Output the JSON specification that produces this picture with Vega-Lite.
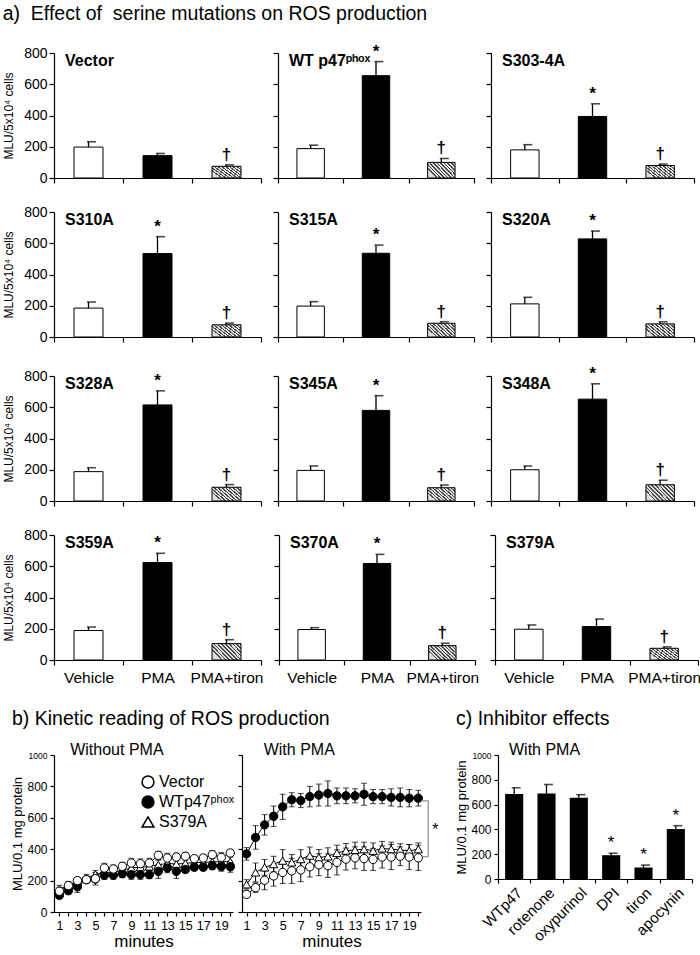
{
"$schema": "https://vega.github.io/schema/vega-lite/v6.json",
"padding": {"left": 2, "top": 4, "right": 2, "bottom": 0},
"config": {
  "font": "Liberation Sans",
  "view": {"stroke": null},
  "axis": {"domainColor": "black", "tickColor": "black", "labelColor": "black", "titleColor": "black", "grid": false, "titleFontWeight": "normal", "domainWidth": 1.2, "tickWidth": 1.2, "labelFont": "Liberation Sans", "titleFont": "Liberation Sans", "labelOverlap": false},
  "axisY": {"tickCount": 6},
  "title": {"font": "Liberation Sans", "fontWeight": "normal", "fontSize": 19.5, "anchor": "start", "color": "black"},
  "text": {"color": "black"}
},
"datasets": {
  "bars": [
    {"g": "Vector", "cond": "Vehicle", "mean": 198, "hi": 232, "sig": ""},
    {"g": "Vector", "cond": "PMA", "mean": 143, "hi": 157, "sig": ""},
    {"g": "Vector", "cond": "PMA+tiron", "mean": 75, "hi": 84, "sig": "†"},
    {"g": "WT p47ᵖʰᵒˣ", "cond": "Vehicle", "mean": 188, "hi": 210, "sig": ""},
    {"g": "WT p47ᵖʰᵒˣ", "cond": "PMA", "mean": 655, "hi": 745, "sig": "*"},
    {"g": "WT p47ᵖʰᵒˣ", "cond": "PMA+tiron", "mean": 100, "hi": 125, "sig": "†"},
    {"g": "S303-4A", "cond": "Vehicle", "mean": 180, "hi": 213, "sig": ""},
    {"g": "S303-4A", "cond": "PMA", "mean": 394, "hi": 475, "sig": "*"},
    {"g": "S303-4A", "cond": "PMA+tiron", "mean": 80, "hi": 89, "sig": "†"},
    {"g": "S310A", "cond": "Vehicle", "mean": 185, "hi": 224, "sig": ""},
    {"g": "S310A", "cond": "PMA", "mean": 534, "hi": 642, "sig": "*"},
    {"g": "S310A", "cond": "PMA+tiron", "mean": 78, "hi": 89, "sig": "†"},
    {"g": "S315A", "cond": "Vehicle", "mean": 198, "hi": 226, "sig": ""},
    {"g": "S315A", "cond": "PMA", "mean": 536, "hi": 588, "sig": "*"},
    {"g": "S315A", "cond": "PMA+tiron", "mean": 88, "hi": 98, "sig": "†"},
    {"g": "S320A", "cond": "Vehicle", "mean": 212, "hi": 254, "sig": ""},
    {"g": "S320A", "cond": "PMA", "mean": 628, "hi": 678, "sig": "*"},
    {"g": "S320A", "cond": "PMA+tiron", "mean": 84, "hi": 97, "sig": "†"},
    {"g": "S328A", "cond": "Vehicle", "mean": 188, "hi": 213, "sig": ""},
    {"g": "S328A", "cond": "PMA", "mean": 615, "hi": 705, "sig": "*"},
    {"g": "S328A", "cond": "PMA+tiron", "mean": 88, "hi": 105, "sig": "†"},
    {"g": "S345A", "cond": "Vehicle", "mean": 196, "hi": 224, "sig": ""},
    {"g": "S345A", "cond": "PMA", "mean": 580, "hi": 674, "sig": "*"},
    {"g": "S345A", "cond": "PMA+tiron", "mean": 85, "hi": 102, "sig": "†"},
    {"g": "S348A", "cond": "Vehicle", "mean": 200, "hi": 224, "sig": ""},
    {"g": "S348A", "cond": "PMA", "mean": 652, "hi": 750, "sig": "*"},
    {"g": "S348A", "cond": "PMA+tiron", "mean": 104, "hi": 133, "sig": "†"},
    {"g": "S359A", "cond": "Vehicle", "mean": 189, "hi": 211, "sig": ""},
    {"g": "S359A", "cond": "PMA", "mean": 624, "hi": 683, "sig": "*"},
    {"g": "S359A", "cond": "PMA+tiron", "mean": 105, "hi": 130, "sig": "†"},
    {"g": "S370A", "cond": "Vehicle", "mean": 195, "hi": 207, "sig": ""},
    {"g": "S370A", "cond": "PMA", "mean": 618, "hi": 676, "sig": "*"},
    {"g": "S370A", "cond": "PMA+tiron", "mean": 92, "hi": 107, "sig": "†"},
    {"g": "S379A", "cond": "Vehicle", "mean": 197, "hi": 224, "sig": ""},
    {"g": "S379A", "cond": "PMA", "mean": 214, "hi": 262, "sig": ""},
    {"g": "S379A", "cond": "PMA+tiron", "mean": 75, "hi": 84, "sig": "†"}
  ],
  "inh": [
    {"k": "WTp47", "mean": 685, "hi": 736, "sig": ""},
    {"k": "rotenone", "mean": 690, "hi": 762, "sig": ""},
    {"k": "oxypurinol", "mean": 655, "hi": 680, "sig": ""},
    {"k": "DPI", "mean": 192, "hi": 208, "sig": "*"},
    {"k": "tiron", "mean": 93, "hi": 112, "sig": "*"},
    {"k": "apocynin", "mean": 403, "hi": 430, "sig": "*"}
  ],
  "kin": [
    {"p":"without","s":"S379A","m":1,"v":145,"e":25},{"p":"without","s":"S379A","m":2,"v":170,"e":25},{"p":"without","s":"S379A","m":3,"v":195,"e":25},{"p":"without","s":"S379A","m":4,"v":215,"e":25},{"p":"without","s":"S379A","m":5,"v":240,"e":25},{"p":"without","s":"S379A","m":6,"v":250,"e":25},{"p":"without","s":"S379A","m":7,"v":255,"e":25},{"p":"without","s":"S379A","m":8,"v":265,"e":25},{"p":"without","s":"S379A","m":9,"v":280,"e":25},{"p":"without","s":"S379A","m":10,"v":285,"e":25},{"p":"without","s":"S379A","m":11,"v":290,"e":25},{"p":"without","s":"S379A","m":12,"v":300,"e":30},{"p":"without","s":"S379A","m":13,"v":310,"e":30},{"p":"without","s":"S379A","m":14,"v":305,"e":30},{"p":"without","s":"S379A","m":15,"v":310,"e":30},{"p":"without","s":"S379A","m":16,"v":315,"e":30},{"p":"without","s":"S379A","m":17,"v":315,"e":30},{"p":"without","s":"S379A","m":18,"v":320,"e":30},{"p":"without","s":"S379A","m":19,"v":320,"e":30},{"p":"without","s":"S379A","m":20,"v":320,"e":30},
    {"p":"without","s":"WTp47ᵖʰᵒˣ","m":1,"v":106,"e":20},{"p":"without","s":"WTp47ᵖʰᵒˣ","m":2,"v":136,"e":25},{"p":"without","s":"WTp47ᵖʰᵒˣ","m":3,"v":160,"e":35},{"p":"without","s":"WTp47ᵖʰᵒˣ","m":4,"v":206,"e":20},{"p":"without","s":"WTp47ᵖʰᵒˣ","m":5,"v":210,"e":20},{"p":"without","s":"WTp47ᵖʰᵒˣ","m":6,"v":234,"e":25},{"p":"without","s":"WTp47ᵖʰᵒˣ","m":7,"v":234,"e":25},{"p":"without","s":"WTp47ᵖʰᵒˣ","m":8,"v":244,"e":25},{"p":"without","s":"WTp47ᵖʰᵒˣ","m":9,"v":238,"e":30},{"p":"without","s":"WTp47ᵖʰᵒˣ","m":10,"v":238,"e":30},{"p":"without","s":"WTp47ᵖʰᵒˣ","m":11,"v":238,"e":25},{"p":"without","s":"WTp47ᵖʰᵒˣ","m":12,"v":259,"e":45},{"p":"without","s":"WTp47ᵖʰᵒˣ","m":13,"v":280,"e":30},{"p":"without","s":"WTp47ᵖʰᵒˣ","m":14,"v":259,"e":45},{"p":"without","s":"WTp47ᵖʰᵒˣ","m":15,"v":271,"e":20},{"p":"without","s":"WTp47ᵖʰᵒˣ","m":16,"v":285,"e":20},{"p":"without","s":"WTp47ᵖʰᵒˣ","m":17,"v":285,"e":20},{"p":"without","s":"WTp47ᵖʰᵒˣ","m":18,"v":295,"e":25},{"p":"without","s":"WTp47ᵖʰᵒˣ","m":19,"v":290,"e":30},{"p":"without","s":"WTp47ᵖʰᵒˣ","m":20,"v":288,"e":35},
    {"p":"without","s":"Vector","m":1,"v":132,"e":25},{"p":"without","s":"Vector","m":2,"v":168,"e":20},{"p":"without","s":"Vector","m":3,"v":200,"e":20},{"p":"without","s":"Vector","m":4,"v":206,"e":20},{"p":"without","s":"Vector","m":5,"v":212,"e":40},{"p":"without","s":"Vector","m":6,"v":280,"e":30},{"p":"without","s":"Vector","m":7,"v":274,"e":25},{"p":"without","s":"Vector","m":8,"v":291,"e":25},{"p":"without","s":"Vector","m":9,"v":312,"e":30},{"p":"without","s":"Vector","m":10,"v":308,"e":30},{"p":"without","s":"Vector","m":11,"v":312,"e":30},{"p":"without","s":"Vector","m":12,"v":361,"e":25},{"p":"without","s":"Vector","m":13,"v":344,"e":30},{"p":"without","s":"Vector","m":14,"v":350,"e":25},{"p":"without","s":"Vector","m":15,"v":355,"e":25},{"p":"without","s":"Vector","m":16,"v":340,"e":20},{"p":"without","s":"Vector","m":17,"v":344,"e":20},{"p":"without","s":"Vector","m":18,"v":365,"e":25},{"p":"without","s":"Vector","m":19,"v":348,"e":30},{"p":"without","s":"Vector","m":20,"v":376,"e":20},
    {"p":"with","s":"S379A","m":1,"v":176,"e":30},{"p":"with","s":"S379A","m":2,"v":252,"e":60},{"p":"with","s":"S379A","m":3,"v":284,"e":50},{"p":"with","s":"S379A","m":4,"v":305,"e":50},{"p":"with","s":"S379A","m":5,"v":327,"e":70},{"p":"with","s":"S379A","m":6,"v":316,"e":50},{"p":"with","s":"S379A","m":7,"v":337,"e":60},{"p":"with","s":"S379A","m":8,"v":359,"e":55},{"p":"with","s":"S379A","m":9,"v":348,"e":50},{"p":"with","s":"S379A","m":10,"v":354,"e":55},{"p":"with","s":"S379A","m":11,"v":376,"e":50},{"p":"with","s":"S379A","m":12,"v":391,"e":45},{"p":"with","s":"S379A","m":13,"v":395,"e":50},{"p":"with","s":"S379A","m":14,"v":400,"e":45},{"p":"with","s":"S379A","m":15,"v":390,"e":50},{"p":"with","s":"S379A","m":16,"v":405,"e":45},{"p":"with","s":"S379A","m":17,"v":400,"e":45},{"p":"with","s":"S379A","m":18,"v":395,"e":40},{"p":"with","s":"S379A","m":19,"v":390,"e":40},{"p":"with","s":"S379A","m":20,"v":400,"e":40},
    {"p":"with","s":"Vector","m":1,"v":112,"e":20},{"p":"with","s":"Vector","m":2,"v":155,"e":30},{"p":"with","s":"Vector","m":3,"v":202,"e":60},{"p":"with","s":"Vector","m":4,"v":230,"e":65},{"p":"with","s":"Vector","m":5,"v":252,"e":70},{"p":"with","s":"Vector","m":6,"v":262,"e":80},{"p":"with","s":"Vector","m":7,"v":268,"e":75},{"p":"with","s":"Vector","m":8,"v":288,"e":65},{"p":"with","s":"Vector","m":9,"v":301,"e":70},{"p":"with","s":"Vector","m":10,"v":295,"e":75},{"p":"with","s":"Vector","m":11,"v":316,"e":80},{"p":"with","s":"Vector","m":12,"v":337,"e":70},{"p":"with","s":"Vector","m":13,"v":345,"e":70},{"p":"with","s":"Vector","m":14,"v":340,"e":75},{"p":"with","s":"Vector","m":15,"v":335,"e":70},{"p":"with","s":"Vector","m":16,"v":350,"e":70},{"p":"with","s":"Vector","m":17,"v":350,"e":80},{"p":"with","s":"Vector","m":18,"v":355,"e":60},{"p":"with","s":"Vector","m":19,"v":350,"e":80},{"p":"with","s":"Vector","m":20,"v":345,"e":80},
    {"p":"with","s":"WTp47ᵖʰᵒˣ","m":1,"v":370,"e":40},{"p":"with","s":"WTp47ᵖʰᵒˣ","m":2,"v":475,"e":75},{"p":"with","s":"WTp47ᵖʰᵒˣ","m":3,"v":555,"e":65},{"p":"with","s":"WTp47ᵖʰᵒˣ","m":4,"v":610,"e":65},{"p":"with","s":"WTp47ᵖʰᵒˣ","m":5,"v":670,"e":80},{"p":"with","s":"WTp47ᵖʰᵒˣ","m":6,"v":715,"e":45},{"p":"with","s":"WTp47ᵖʰᵒˣ","m":7,"v":710,"e":45},{"p":"with","s":"WTp47ᵖʰᵒˣ","m":8,"v":735,"e":65},{"p":"with","s":"WTp47ᵖʰᵒˣ","m":9,"v":745,"e":70},{"p":"with","s":"WTp47ᵖʰᵒˣ","m":10,"v":755,"e":80},{"p":"with","s":"WTp47ᵖʰᵒˣ","m":11,"v":740,"e":50},{"p":"with","s":"WTp47ᵖʰᵒˣ","m":12,"v":740,"e":50},{"p":"with","s":"WTp47ᵖʰᵒˣ","m":13,"v":740,"e":45},{"p":"with","s":"WTp47ᵖʰᵒˣ","m":14,"v":750,"e":70},{"p":"with","s":"WTp47ᵖʰᵒˣ","m":15,"v":735,"e":45},{"p":"with","s":"WTp47ᵖʰᵒˣ","m":16,"v":735,"e":45},{"p":"with","s":"WTp47ᵖʰᵒˣ","m":17,"v":730,"e":55},{"p":"with","s":"WTp47ᵖʰᵒˣ","m":18,"v":730,"e":60},{"p":"with","s":"WTp47ᵖʰᵒˣ","m":19,"v":725,"e":55},{"p":"with","s":"WTp47ᵖʰᵒˣ","m":20,"v":725,"e":50}
  ]
},
"columns": 1,
"align": "none",
"spacing": 22,
"concat": [
  {
    "data": {"name": "bars"},
    "title": {"text": "a)\u00a0 Effect of\u00a0 serine mutations on ROS production", "offset": 18},
    "spacing": 20,
    "vconcat": [
      {"spacing": 10, "hconcat": [
        {"width": 207, "height": 125, "transform": [{"filter": "datum.g == 'Vector'"}],
         "encoding": {"x": {"field": "cond", "type": "nominal", "sort": ["Vehicle", "PMA", "PMA+tiron"], "scale": {"paddingInner": 0, "paddingOuter": 0}, "axis": {"title": null, "labels": false, "tickBand": "extent", "tickSize": 5}}},
         "layer": [
          {"mark": {"type": "bar", "stroke": "black", "strokeWidth": 1, "width": {"band": 0.42}}, "encoding": {"y": {"field": "mean", "type": "quantitative", "scale": {"domain": [0, 800], "nice": false}, "axis": {"title": "MLU/5x10⁴ cells", "values": [0, 200, 400, 600, 800], "labelFontSize": 14, "titleFontSize": 12, "titlePadding": 8, "labelPadding": 2, "tickSize": 5}}, "fill": {"condition": [{"test": "datum.cond == 'PMA'", "value": "black"}, {"test": "datum.cond == 'PMA+tiron'", "value": {"gradient": "linear", "x1": 0, "y1": 0.55, "x2": 1, "y2": 0, "stops": [{"offset": 0, "color": "#dedede"}, {"offset": 0.055, "color": "#dedede"}, {"offset": 0.055, "color": "#4a4a4a"}, {"offset": 0.1, "color": "#4a4a4a"}, {"offset": 0.1, "color": "#dedede"}, {"offset": 0.155, "color": "#dedede"}, {"offset": 0.155, "color": "#4a4a4a"}, {"offset": 0.2, "color": "#4a4a4a"}, {"offset": 0.2, "color": "#dedede"}, {"offset": 0.255, "color": "#dedede"}, {"offset": 0.255, "color": "#4a4a4a"}, {"offset": 0.3, "color": "#4a4a4a"}, {"offset": 0.3, "color": "#dedede"}, {"offset": 0.355, "color": "#dedede"}, {"offset": 0.355, "color": "#4a4a4a"}, {"offset": 0.4, "color": "#4a4a4a"}, {"offset": 0.4, "color": "#dedede"}, {"offset": 0.455, "color": "#dedede"}, {"offset": 0.455, "color": "#4a4a4a"}, {"offset": 0.5, "color": "#4a4a4a"}, {"offset": 0.5, "color": "#dedede"}, {"offset": 0.555, "color": "#dedede"}, {"offset": 0.555, "color": "#4a4a4a"}, {"offset": 0.6, "color": "#4a4a4a"}, {"offset": 0.6, "color": "#dedede"}, {"offset": 0.655, "color": "#dedede"}, {"offset": 0.655, "color": "#4a4a4a"}, {"offset": 0.7, "color": "#4a4a4a"}, {"offset": 0.7, "color": "#dedede"}, {"offset": 0.755, "color": "#dedede"}, {"offset": 0.755, "color": "#4a4a4a"}, {"offset": 0.8, "color": "#4a4a4a"}, {"offset": 0.8, "color": "#dedede"}, {"offset": 0.855, "color": "#dedede"}, {"offset": 0.855, "color": "#4a4a4a"}, {"offset": 0.9, "color": "#4a4a4a"}, {"offset": 0.9, "color": "#dedede"}, {"offset": 0.955, "color": "#dedede"}, {"offset": 0.955, "color": "#4a4a4a"}, {"offset": 1, "color": "#4a4a4a"}]}}], "value": "white"}}},
          {"mark": {"type": "rule", "strokeWidth": 1.3, "color": "black"}, "encoding": {"y": {"field": "mean", "type": "quantitative"}, "y2": {"field": "hi"}}},
          {"mark": {"type": "tick", "thickness": 1.6, "size": 9, "color": "black", "xOffset": 3}, "encoding": {"y": {"field": "hi", "type": "quantitative"}}},
          {"mark": {"type": "text", "dy": -10, "fontSize": 17, "fontWeight": "bold"}, "encoding": {"y": {"field": "hi", "type": "quantitative"}, "text": {"field": "sig"}}},
          {"transform": [{"filter": "datum.cond == 'Vehicle'"}], "mark": {"type": "text", "align": "left", "baseline": "top", "fontSize": 16, "fontWeight": "bold", "dx": 11, "dy": 0}, "encoding": {"x": {"field": "cond", "type": "nominal", "sort": ["Vehicle", "PMA", "PMA+tiron"], "bandPosition": 0}, "y": {"datum": 800}, "text": {"field": "g"}}}
         ]},
        {"width": 196, "height": 125, "transform": [{"filter": "datum.g == 'WT p47ᵖʰᵒˣ'"}],
         "encoding": {"x": {"field": "cond", "type": "nominal", "sort": ["Vehicle", "PMA", "PMA+tiron"], "scale": {"paddingInner": 0, "paddingOuter": 0}, "axis": {"title": null, "labels": false, "tickBand": "extent", "tickSize": 5}}},
         "layer": [
          {"mark": {"type": "bar", "stroke": "black", "strokeWidth": 1, "width": {"band": 0.42}}, "encoding": {"y": {"field": "mean", "type": "quantitative", "scale": {"domain": [0, 800], "nice": false}, "axis": {"title": null, "labels": false, "values": [0, 200, 400, 600, 800], "tickSize": 5}}, "fill": {"condition": [{"test": "datum.cond == 'PMA'", "value": "black"}, {"test": "datum.cond == 'PMA+tiron'", "value": {"gradient": "linear", "x1": 0, "y1": 0.55, "x2": 1, "y2": 0, "stops": [{"offset": 0, "color": "#dedede"}, {"offset": 0.055, "color": "#dedede"}, {"offset": 0.055, "color": "#4a4a4a"}, {"offset": 0.1, "color": "#4a4a4a"}, {"offset": 0.1, "color": "#dedede"}, {"offset": 0.155, "color": "#dedede"}, {"offset": 0.155, "color": "#4a4a4a"}, {"offset": 0.2, "color": "#4a4a4a"}, {"offset": 0.2, "color": "#dedede"}, {"offset": 0.255, "color": "#dedede"}, {"offset": 0.255, "color": "#4a4a4a"}, {"offset": 0.3, "color": "#4a4a4a"}, {"offset": 0.3, "color": "#dedede"}, {"offset": 0.355, "color": "#dedede"}, {"offset": 0.355, "color": "#4a4a4a"}, {"offset": 0.4, "color": "#4a4a4a"}, {"offset": 0.4, "color": "#dedede"}, {"offset": 0.455, "color": "#dedede"}, {"offset": 0.455, "color": "#4a4a4a"}, {"offset": 0.5, "color": "#4a4a4a"}, {"offset": 0.5, "color": "#dedede"}, {"offset": 0.555, "color": "#dedede"}, {"offset": 0.555, "color": "#4a4a4a"}, {"offset": 0.6, "color": "#4a4a4a"}, {"offset": 0.6, "color": "#dedede"}, {"offset": 0.655, "color": "#dedede"}, {"offset": 0.655, "color": "#4a4a4a"}, {"offset": 0.7, "color": "#4a4a4a"}, {"offset": 0.7, "color": "#dedede"}, {"offset": 0.755, "color": "#dedede"}, {"offset": 0.755, "color": "#4a4a4a"}, {"offset": 0.8, "color": "#4a4a4a"}, {"offset": 0.8, "color": "#dedede"}, {"offset": 0.855, "color": "#dedede"}, {"offset": 0.855, "color": "#4a4a4a"}, {"offset": 0.9, "color": "#4a4a4a"}, {"offset": 0.9, "color": "#dedede"}, {"offset": 0.955, "color": "#dedede"}, {"offset": 0.955, "color": "#4a4a4a"}, {"offset": 1, "color": "#4a4a4a"}]}}], "value": "white"}}},
          {"mark": {"type": "rule", "strokeWidth": 1.3, "color": "black"}, "encoding": {"y": {"field": "mean", "type": "quantitative"}, "y2": {"field": "hi"}}},
          {"mark": {"type": "tick", "thickness": 1.6, "size": 9, "color": "black", "xOffset": 3}, "encoding": {"y": {"field": "hi", "type": "quantitative"}}},
          {"mark": {"type": "text", "dy": -10, "fontSize": 17, "fontWeight": "bold"}, "encoding": {"y": {"field": "hi", "type": "quantitative"}, "text": {"field": "sig"}}},
          {"transform": [{"filter": "datum.cond == 'Vehicle'"}], "mark": {"type": "text", "align": "left", "baseline": "top", "fontSize": 16, "fontWeight": "bold", "dx": 11, "dy": 0}, "encoding": {"x": {"field": "cond", "type": "nominal", "sort": ["Vehicle", "PMA", "PMA+tiron"], "bandPosition": 0}, "y": {"datum": 800}, "text": {"field": "g"}}}
         ]},
        {"width": 203, "height": 125, "transform": [{"filter": "datum.g == 'S303-4A'"}],
         "encoding": {"x": {"field": "cond", "type": "nominal", "sort": ["Vehicle", "PMA", "PMA+tiron"], "scale": {"paddingInner": 0, "paddingOuter": 0}, "axis": {"title": null, "labels": false, "tickBand": "extent", "tickSize": 5}}},
         "layer": [
          {"mark": {"type": "bar", "stroke": "black", "strokeWidth": 1, "width": {"band": 0.42}}, "encoding": {"y": {"field": "mean", "type": "quantitative", "scale": {"domain": [0, 800], "nice": false}, "axis": {"title": null, "labels": false, "values": [0, 200, 400, 600, 800], "tickSize": 5}}, "fill": {"condition": [{"test": "datum.cond == 'PMA'", "value": "black"}, {"test": "datum.cond == 'PMA+tiron'", "value": {"gradient": "linear", "x1": 0, "y1": 0.55, "x2": 1, "y2": 0, "stops": [{"offset": 0, "color": "#dedede"}, {"offset": 0.055, "color": "#dedede"}, {"offset": 0.055, "color": "#4a4a4a"}, {"offset": 0.1, "color": "#4a4a4a"}, {"offset": 0.1, "color": "#dedede"}, {"offset": 0.155, "color": "#dedede"}, {"offset": 0.155, "color": "#4a4a4a"}, {"offset": 0.2, "color": "#4a4a4a"}, {"offset": 0.2, "color": "#dedede"}, {"offset": 0.255, "color": "#dedede"}, {"offset": 0.255, "color": "#4a4a4a"}, {"offset": 0.3, "color": "#4a4a4a"}, {"offset": 0.3, "color": "#dedede"}, {"offset": 0.355, "color": "#dedede"}, {"offset": 0.355, "color": "#4a4a4a"}, {"offset": 0.4, "color": "#4a4a4a"}, {"offset": 0.4, "color": "#dedede"}, {"offset": 0.455, "color": "#dedede"}, {"offset": 0.455, "color": "#4a4a4a"}, {"offset": 0.5, "color": "#4a4a4a"}, {"offset": 0.5, "color": "#dedede"}, {"offset": 0.555, "color": "#dedede"}, {"offset": 0.555, "color": "#4a4a4a"}, {"offset": 0.6, "color": "#4a4a4a"}, {"offset": 0.6, "color": "#dedede"}, {"offset": 0.655, "color": "#dedede"}, {"offset": 0.655, "color": "#4a4a4a"}, {"offset": 0.7, "color": "#4a4a4a"}, {"offset": 0.7, "color": "#dedede"}, {"offset": 0.755, "color": "#dedede"}, {"offset": 0.755, "color": "#4a4a4a"}, {"offset": 0.8, "color": "#4a4a4a"}, {"offset": 0.8, "color": "#dedede"}, {"offset": 0.855, "color": "#dedede"}, {"offset": 0.855, "color": "#4a4a4a"}, {"offset": 0.9, "color": "#4a4a4a"}, {"offset": 0.9, "color": "#dedede"}, {"offset": 0.955, "color": "#dedede"}, {"offset": 0.955, "color": "#4a4a4a"}, {"offset": 1, "color": "#4a4a4a"}]}}], "value": "white"}}},
          {"mark": {"type": "rule", "strokeWidth": 1.3, "color": "black"}, "encoding": {"y": {"field": "mean", "type": "quantitative"}, "y2": {"field": "hi"}}},
          {"mark": {"type": "tick", "thickness": 1.6, "size": 9, "color": "black", "xOffset": 3}, "encoding": {"y": {"field": "hi", "type": "quantitative"}}},
          {"mark": {"type": "text", "dy": -10, "fontSize": 17, "fontWeight": "bold"}, "encoding": {"y": {"field": "hi", "type": "quantitative"}, "text": {"field": "sig"}}},
          {"transform": [{"filter": "datum.cond == 'Vehicle'"}], "mark": {"type": "text", "align": "left", "baseline": "top", "fontSize": 16, "fontWeight": "bold", "dx": 11, "dy": 0}, "encoding": {"x": {"field": "cond", "type": "nominal", "sort": ["Vehicle", "PMA", "PMA+tiron"], "bandPosition": 0}, "y": {"datum": 800}, "text": {"field": "g"}}}
         ]}
      ]},
      {"spacing": 10, "hconcat": [
        {"width": 207, "height": 125, "transform": [{"filter": "datum.g == 'S310A'"}],
         "encoding": {"x": {"field": "cond", "type": "nominal", "sort": ["Vehicle", "PMA", "PMA+tiron"], "scale": {"paddingInner": 0, "paddingOuter": 0}, "axis": {"title": null, "labels": false, "tickBand": "extent", "tickSize": 5}}},
         "layer": [
          {"mark": {"type": "bar", "stroke": "black", "strokeWidth": 1, "width": {"band": 0.42}}, "encoding": {"y": {"field": "mean", "type": "quantitative", "scale": {"domain": [0, 800], "nice": false}, "axis": {"title": "MLU/5x10⁴ cells", "values": [0, 200, 400, 600, 800], "labelFontSize": 14, "titleFontSize": 12, "titlePadding": 8, "labelPadding": 2, "tickSize": 5}}, "fill": {"condition": [{"test": "datum.cond == 'PMA'", "value": "black"}, {"test": "datum.cond == 'PMA+tiron'", "value": {"gradient": "linear", "x1": 0, "y1": 0.55, "x2": 1, "y2": 0, "stops": [{"offset": 0, "color": "#dedede"}, {"offset": 0.055, "color": "#dedede"}, {"offset": 0.055, "color": "#4a4a4a"}, {"offset": 0.1, "color": "#4a4a4a"}, {"offset": 0.1, "color": "#dedede"}, {"offset": 0.155, "color": "#dedede"}, {"offset": 0.155, "color": "#4a4a4a"}, {"offset": 0.2, "color": "#4a4a4a"}, {"offset": 0.2, "color": "#dedede"}, {"offset": 0.255, "color": "#dedede"}, {"offset": 0.255, "color": "#4a4a4a"}, {"offset": 0.3, "color": "#4a4a4a"}, {"offset": 0.3, "color": "#dedede"}, {"offset": 0.355, "color": "#dedede"}, {"offset": 0.355, "color": "#4a4a4a"}, {"offset": 0.4, "color": "#4a4a4a"}, {"offset": 0.4, "color": "#dedede"}, {"offset": 0.455, "color": "#dedede"}, {"offset": 0.455, "color": "#4a4a4a"}, {"offset": 0.5, "color": "#4a4a4a"}, {"offset": 0.5, "color": "#dedede"}, {"offset": 0.555, "color": "#dedede"}, {"offset": 0.555, "color": "#4a4a4a"}, {"offset": 0.6, "color": "#4a4a4a"}, {"offset": 0.6, "color": "#dedede"}, {"offset": 0.655, "color": "#dedede"}, {"offset": 0.655, "color": "#4a4a4a"}, {"offset": 0.7, "color": "#4a4a4a"}, {"offset": 0.7, "color": "#dedede"}, {"offset": 0.755, "color": "#dedede"}, {"offset": 0.755, "color": "#4a4a4a"}, {"offset": 0.8, "color": "#4a4a4a"}, {"offset": 0.8, "color": "#dedede"}, {"offset": 0.855, "color": "#dedede"}, {"offset": 0.855, "color": "#4a4a4a"}, {"offset": 0.9, "color": "#4a4a4a"}, {"offset": 0.9, "color": "#dedede"}, {"offset": 0.955, "color": "#dedede"}, {"offset": 0.955, "color": "#4a4a4a"}, {"offset": 1, "color": "#4a4a4a"}]}}], "value": "white"}}},
          {"mark": {"type": "rule", "strokeWidth": 1.3, "color": "black"}, "encoding": {"y": {"field": "mean", "type": "quantitative"}, "y2": {"field": "hi"}}},
          {"mark": {"type": "tick", "thickness": 1.6, "size": 9, "color": "black", "xOffset": 3}, "encoding": {"y": {"field": "hi", "type": "quantitative"}}},
          {"mark": {"type": "text", "dy": -10, "fontSize": 17, "fontWeight": "bold"}, "encoding": {"y": {"field": "hi", "type": "quantitative"}, "text": {"field": "sig"}}},
          {"transform": [{"filter": "datum.cond == 'Vehicle'"}], "mark": {"type": "text", "align": "left", "baseline": "top", "fontSize": 16, "fontWeight": "bold", "dx": 11, "dy": 0}, "encoding": {"x": {"field": "cond", "type": "nominal", "sort": ["Vehicle", "PMA", "PMA+tiron"], "bandPosition": 0}, "y": {"datum": 800}, "text": {"field": "g"}}}
         ]},
        {"width": 196, "height": 125, "transform": [{"filter": "datum.g == 'S315A'"}],
         "encoding": {"x": {"field": "cond", "type": "nominal", "sort": ["Vehicle", "PMA", "PMA+tiron"], "scale": {"paddingInner": 0, "paddingOuter": 0}, "axis": {"title": null, "labels": false, "tickBand": "extent", "tickSize": 5}}},
         "layer": [
          {"mark": {"type": "bar", "stroke": "black", "strokeWidth": 1, "width": {"band": 0.42}}, "encoding": {"y": {"field": "mean", "type": "quantitative", "scale": {"domain": [0, 800], "nice": false}, "axis": {"title": null, "labels": false, "values": [0, 200, 400, 600, 800], "tickSize": 5}}, "fill": {"condition": [{"test": "datum.cond == 'PMA'", "value": "black"}, {"test": "datum.cond == 'PMA+tiron'", "value": {"gradient": "linear", "x1": 0, "y1": 0.55, "x2": 1, "y2": 0, "stops": [{"offset": 0, "color": "#dedede"}, {"offset": 0.055, "color": "#dedede"}, {"offset": 0.055, "color": "#4a4a4a"}, {"offset": 0.1, "color": "#4a4a4a"}, {"offset": 0.1, "color": "#dedede"}, {"offset": 0.155, "color": "#dedede"}, {"offset": 0.155, "color": "#4a4a4a"}, {"offset": 0.2, "color": "#4a4a4a"}, {"offset": 0.2, "color": "#dedede"}, {"offset": 0.255, "color": "#dedede"}, {"offset": 0.255, "color": "#4a4a4a"}, {"offset": 0.3, "color": "#4a4a4a"}, {"offset": 0.3, "color": "#dedede"}, {"offset": 0.355, "color": "#dedede"}, {"offset": 0.355, "color": "#4a4a4a"}, {"offset": 0.4, "color": "#4a4a4a"}, {"offset": 0.4, "color": "#dedede"}, {"offset": 0.455, "color": "#dedede"}, {"offset": 0.455, "color": "#4a4a4a"}, {"offset": 0.5, "color": "#4a4a4a"}, {"offset": 0.5, "color": "#dedede"}, {"offset": 0.555, "color": "#dedede"}, {"offset": 0.555, "color": "#4a4a4a"}, {"offset": 0.6, "color": "#4a4a4a"}, {"offset": 0.6, "color": "#dedede"}, {"offset": 0.655, "color": "#dedede"}, {"offset": 0.655, "color": "#4a4a4a"}, {"offset": 0.7, "color": "#4a4a4a"}, {"offset": 0.7, "color": "#dedede"}, {"offset": 0.755, "color": "#dedede"}, {"offset": 0.755, "color": "#4a4a4a"}, {"offset": 0.8, "color": "#4a4a4a"}, {"offset": 0.8, "color": "#dedede"}, {"offset": 0.855, "color": "#dedede"}, {"offset": 0.855, "color": "#4a4a4a"}, {"offset": 0.9, "color": "#4a4a4a"}, {"offset": 0.9, "color": "#dedede"}, {"offset": 0.955, "color": "#dedede"}, {"offset": 0.955, "color": "#4a4a4a"}, {"offset": 1, "color": "#4a4a4a"}]}}], "value": "white"}}},
          {"mark": {"type": "rule", "strokeWidth": 1.3, "color": "black"}, "encoding": {"y": {"field": "mean", "type": "quantitative"}, "y2": {"field": "hi"}}},
          {"mark": {"type": "tick", "thickness": 1.6, "size": 9, "color": "black", "xOffset": 3}, "encoding": {"y": {"field": "hi", "type": "quantitative"}}},
          {"mark": {"type": "text", "dy": -10, "fontSize": 17, "fontWeight": "bold"}, "encoding": {"y": {"field": "hi", "type": "quantitative"}, "text": {"field": "sig"}}},
          {"transform": [{"filter": "datum.cond == 'Vehicle'"}], "mark": {"type": "text", "align": "left", "baseline": "top", "fontSize": 16, "fontWeight": "bold", "dx": 11, "dy": 0}, "encoding": {"x": {"field": "cond", "type": "nominal", "sort": ["Vehicle", "PMA", "PMA+tiron"], "bandPosition": 0}, "y": {"datum": 800}, "text": {"field": "g"}}}
         ]},
        {"width": 203, "height": 125, "transform": [{"filter": "datum.g == 'S320A'"}],
         "encoding": {"x": {"field": "cond", "type": "nominal", "sort": ["Vehicle", "PMA", "PMA+tiron"], "scale": {"paddingInner": 0, "paddingOuter": 0}, "axis": {"title": null, "labels": false, "tickBand": "extent", "tickSize": 5}}},
         "layer": [
          {"mark": {"type": "bar", "stroke": "black", "strokeWidth": 1, "width": {"band": 0.42}}, "encoding": {"y": {"field": "mean", "type": "quantitative", "scale": {"domain": [0, 800], "nice": false}, "axis": {"title": null, "labels": false, "values": [0, 200, 400, 600, 800], "tickSize": 5}}, "fill": {"condition": [{"test": "datum.cond == 'PMA'", "value": "black"}, {"test": "datum.cond == 'PMA+tiron'", "value": {"gradient": "linear", "x1": 0, "y1": 0.55, "x2": 1, "y2": 0, "stops": [{"offset": 0, "color": "#dedede"}, {"offset": 0.055, "color": "#dedede"}, {"offset": 0.055, "color": "#4a4a4a"}, {"offset": 0.1, "color": "#4a4a4a"}, {"offset": 0.1, "color": "#dedede"}, {"offset": 0.155, "color": "#dedede"}, {"offset": 0.155, "color": "#4a4a4a"}, {"offset": 0.2, "color": "#4a4a4a"}, {"offset": 0.2, "color": "#dedede"}, {"offset": 0.255, "color": "#dedede"}, {"offset": 0.255, "color": "#4a4a4a"}, {"offset": 0.3, "color": "#4a4a4a"}, {"offset": 0.3, "color": "#dedede"}, {"offset": 0.355, "color": "#dedede"}, {"offset": 0.355, "color": "#4a4a4a"}, {"offset": 0.4, "color": "#4a4a4a"}, {"offset": 0.4, "color": "#dedede"}, {"offset": 0.455, "color": "#dedede"}, {"offset": 0.455, "color": "#4a4a4a"}, {"offset": 0.5, "color": "#4a4a4a"}, {"offset": 0.5, "color": "#dedede"}, {"offset": 0.555, "color": "#dedede"}, {"offset": 0.555, "color": "#4a4a4a"}, {"offset": 0.6, "color": "#4a4a4a"}, {"offset": 0.6, "color": "#dedede"}, {"offset": 0.655, "color": "#dedede"}, {"offset": 0.655, "color": "#4a4a4a"}, {"offset": 0.7, "color": "#4a4a4a"}, {"offset": 0.7, "color": "#dedede"}, {"offset": 0.755, "color": "#dedede"}, {"offset": 0.755, "color": "#4a4a4a"}, {"offset": 0.8, "color": "#4a4a4a"}, {"offset": 0.8, "color": "#dedede"}, {"offset": 0.855, "color": "#dedede"}, {"offset": 0.855, "color": "#4a4a4a"}, {"offset": 0.9, "color": "#4a4a4a"}, {"offset": 0.9, "color": "#dedede"}, {"offset": 0.955, "color": "#dedede"}, {"offset": 0.955, "color": "#4a4a4a"}, {"offset": 1, "color": "#4a4a4a"}]}}], "value": "white"}}},
          {"mark": {"type": "rule", "strokeWidth": 1.3, "color": "black"}, "encoding": {"y": {"field": "mean", "type": "quantitative"}, "y2": {"field": "hi"}}},
          {"mark": {"type": "tick", "thickness": 1.6, "size": 9, "color": "black", "xOffset": 3}, "encoding": {"y": {"field": "hi", "type": "quantitative"}}},
          {"mark": {"type": "text", "dy": -10, "fontSize": 17, "fontWeight": "bold"}, "encoding": {"y": {"field": "hi", "type": "quantitative"}, "text": {"field": "sig"}}},
          {"transform": [{"filter": "datum.cond == 'Vehicle'"}], "mark": {"type": "text", "align": "left", "baseline": "top", "fontSize": 16, "fontWeight": "bold", "dx": 11, "dy": 0}, "encoding": {"x": {"field": "cond", "type": "nominal", "sort": ["Vehicle", "PMA", "PMA+tiron"], "bandPosition": 0}, "y": {"datum": 800}, "text": {"field": "g"}}}
         ]}
      ]},
      {"spacing": 10, "hconcat": [
        {"width": 207, "height": 125, "transform": [{"filter": "datum.g == 'S328A'"}],
         "encoding": {"x": {"field": "cond", "type": "nominal", "sort": ["Vehicle", "PMA", "PMA+tiron"], "scale": {"paddingInner": 0, "paddingOuter": 0}, "axis": {"title": null, "labels": false, "tickBand": "extent", "tickSize": 5}}},
         "layer": [
          {"mark": {"type": "bar", "stroke": "black", "strokeWidth": 1, "width": {"band": 0.42}}, "encoding": {"y": {"field": "mean", "type": "quantitative", "scale": {"domain": [0, 800], "nice": false}, "axis": {"title": "MLU/5x10⁴ cells", "values": [0, 200, 400, 600, 800], "labelFontSize": 14, "titleFontSize": 12, "titlePadding": 8, "labelPadding": 2, "tickSize": 5}}, "fill": {"condition": [{"test": "datum.cond == 'PMA'", "value": "black"}, {"test": "datum.cond == 'PMA+tiron'", "value": {"gradient": "linear", "x1": 0, "y1": 0.55, "x2": 1, "y2": 0, "stops": [{"offset": 0, "color": "#dedede"}, {"offset": 0.055, "color": "#dedede"}, {"offset": 0.055, "color": "#4a4a4a"}, {"offset": 0.1, "color": "#4a4a4a"}, {"offset": 0.1, "color": "#dedede"}, {"offset": 0.155, "color": "#dedede"}, {"offset": 0.155, "color": "#4a4a4a"}, {"offset": 0.2, "color": "#4a4a4a"}, {"offset": 0.2, "color": "#dedede"}, {"offset": 0.255, "color": "#dedede"}, {"offset": 0.255, "color": "#4a4a4a"}, {"offset": 0.3, "color": "#4a4a4a"}, {"offset": 0.3, "color": "#dedede"}, {"offset": 0.355, "color": "#dedede"}, {"offset": 0.355, "color": "#4a4a4a"}, {"offset": 0.4, "color": "#4a4a4a"}, {"offset": 0.4, "color": "#dedede"}, {"offset": 0.455, "color": "#dedede"}, {"offset": 0.455, "color": "#4a4a4a"}, {"offset": 0.5, "color": "#4a4a4a"}, {"offset": 0.5, "color": "#dedede"}, {"offset": 0.555, "color": "#dedede"}, {"offset": 0.555, "color": "#4a4a4a"}, {"offset": 0.6, "color": "#4a4a4a"}, {"offset": 0.6, "color": "#dedede"}, {"offset": 0.655, "color": "#dedede"}, {"offset": 0.655, "color": "#4a4a4a"}, {"offset": 0.7, "color": "#4a4a4a"}, {"offset": 0.7, "color": "#dedede"}, {"offset": 0.755, "color": "#dedede"}, {"offset": 0.755, "color": "#4a4a4a"}, {"offset": 0.8, "color": "#4a4a4a"}, {"offset": 0.8, "color": "#dedede"}, {"offset": 0.855, "color": "#dedede"}, {"offset": 0.855, "color": "#4a4a4a"}, {"offset": 0.9, "color": "#4a4a4a"}, {"offset": 0.9, "color": "#dedede"}, {"offset": 0.955, "color": "#dedede"}, {"offset": 0.955, "color": "#4a4a4a"}, {"offset": 1, "color": "#4a4a4a"}]}}], "value": "white"}}},
          {"mark": {"type": "rule", "strokeWidth": 1.3, "color": "black"}, "encoding": {"y": {"field": "mean", "type": "quantitative"}, "y2": {"field": "hi"}}},
          {"mark": {"type": "tick", "thickness": 1.6, "size": 9, "color": "black", "xOffset": 3}, "encoding": {"y": {"field": "hi", "type": "quantitative"}}},
          {"mark": {"type": "text", "dy": -10, "fontSize": 17, "fontWeight": "bold"}, "encoding": {"y": {"field": "hi", "type": "quantitative"}, "text": {"field": "sig"}}},
          {"transform": [{"filter": "datum.cond == 'Vehicle'"}], "mark": {"type": "text", "align": "left", "baseline": "top", "fontSize": 16, "fontWeight": "bold", "dx": 11, "dy": 0}, "encoding": {"x": {"field": "cond", "type": "nominal", "sort": ["Vehicle", "PMA", "PMA+tiron"], "bandPosition": 0}, "y": {"datum": 800}, "text": {"field": "g"}}}
         ]},
        {"width": 196, "height": 125, "transform": [{"filter": "datum.g == 'S345A'"}],
         "encoding": {"x": {"field": "cond", "type": "nominal", "sort": ["Vehicle", "PMA", "PMA+tiron"], "scale": {"paddingInner": 0, "paddingOuter": 0}, "axis": {"title": null, "labels": false, "tickBand": "extent", "tickSize": 5}}},
         "layer": [
          {"mark": {"type": "bar", "stroke": "black", "strokeWidth": 1, "width": {"band": 0.42}}, "encoding": {"y": {"field": "mean", "type": "quantitative", "scale": {"domain": [0, 800], "nice": false}, "axis": {"title": null, "labels": false, "values": [0, 200, 400, 600, 800], "tickSize": 5}}, "fill": {"condition": [{"test": "datum.cond == 'PMA'", "value": "black"}, {"test": "datum.cond == 'PMA+tiron'", "value": {"gradient": "linear", "x1": 0, "y1": 0.55, "x2": 1, "y2": 0, "stops": [{"offset": 0, "color": "#dedede"}, {"offset": 0.055, "color": "#dedede"}, {"offset": 0.055, "color": "#4a4a4a"}, {"offset": 0.1, "color": "#4a4a4a"}, {"offset": 0.1, "color": "#dedede"}, {"offset": 0.155, "color": "#dedede"}, {"offset": 0.155, "color": "#4a4a4a"}, {"offset": 0.2, "color": "#4a4a4a"}, {"offset": 0.2, "color": "#dedede"}, {"offset": 0.255, "color": "#dedede"}, {"offset": 0.255, "color": "#4a4a4a"}, {"offset": 0.3, "color": "#4a4a4a"}, {"offset": 0.3, "color": "#dedede"}, {"offset": 0.355, "color": "#dedede"}, {"offset": 0.355, "color": "#4a4a4a"}, {"offset": 0.4, "color": "#4a4a4a"}, {"offset": 0.4, "color": "#dedede"}, {"offset": 0.455, "color": "#dedede"}, {"offset": 0.455, "color": "#4a4a4a"}, {"offset": 0.5, "color": "#4a4a4a"}, {"offset": 0.5, "color": "#dedede"}, {"offset": 0.555, "color": "#dedede"}, {"offset": 0.555, "color": "#4a4a4a"}, {"offset": 0.6, "color": "#4a4a4a"}, {"offset": 0.6, "color": "#dedede"}, {"offset": 0.655, "color": "#dedede"}, {"offset": 0.655, "color": "#4a4a4a"}, {"offset": 0.7, "color": "#4a4a4a"}, {"offset": 0.7, "color": "#dedede"}, {"offset": 0.755, "color": "#dedede"}, {"offset": 0.755, "color": "#4a4a4a"}, {"offset": 0.8, "color": "#4a4a4a"}, {"offset": 0.8, "color": "#dedede"}, {"offset": 0.855, "color": "#dedede"}, {"offset": 0.855, "color": "#4a4a4a"}, {"offset": 0.9, "color": "#4a4a4a"}, {"offset": 0.9, "color": "#dedede"}, {"offset": 0.955, "color": "#dedede"}, {"offset": 0.955, "color": "#4a4a4a"}, {"offset": 1, "color": "#4a4a4a"}]}}], "value": "white"}}},
          {"mark": {"type": "rule", "strokeWidth": 1.3, "color": "black"}, "encoding": {"y": {"field": "mean", "type": "quantitative"}, "y2": {"field": "hi"}}},
          {"mark": {"type": "tick", "thickness": 1.6, "size": 9, "color": "black", "xOffset": 3}, "encoding": {"y": {"field": "hi", "type": "quantitative"}}},
          {"mark": {"type": "text", "dy": -10, "fontSize": 17, "fontWeight": "bold"}, "encoding": {"y": {"field": "hi", "type": "quantitative"}, "text": {"field": "sig"}}},
          {"transform": [{"filter": "datum.cond == 'Vehicle'"}], "mark": {"type": "text", "align": "left", "baseline": "top", "fontSize": 16, "fontWeight": "bold", "dx": 11, "dy": 0}, "encoding": {"x": {"field": "cond", "type": "nominal", "sort": ["Vehicle", "PMA", "PMA+tiron"], "bandPosition": 0}, "y": {"datum": 800}, "text": {"field": "g"}}}
         ]},
        {"width": 203, "height": 125, "transform": [{"filter": "datum.g == 'S348A'"}],
         "encoding": {"x": {"field": "cond", "type": "nominal", "sort": ["Vehicle", "PMA", "PMA+tiron"], "scale": {"paddingInner": 0, "paddingOuter": 0}, "axis": {"title": null, "labels": false, "tickBand": "extent", "tickSize": 5}}},
         "layer": [
          {"mark": {"type": "bar", "stroke": "black", "strokeWidth": 1, "width": {"band": 0.42}}, "encoding": {"y": {"field": "mean", "type": "quantitative", "scale": {"domain": [0, 800], "nice": false}, "axis": {"title": null, "labels": false, "values": [0, 200, 400, 600, 800], "tickSize": 5}}, "fill": {"condition": [{"test": "datum.cond == 'PMA'", "value": "black"}, {"test": "datum.cond == 'PMA+tiron'", "value": {"gradient": "linear", "x1": 0, "y1": 0.55, "x2": 1, "y2": 0, "stops": [{"offset": 0, "color": "#dedede"}, {"offset": 0.055, "color": "#dedede"}, {"offset": 0.055, "color": "#4a4a4a"}, {"offset": 0.1, "color": "#4a4a4a"}, {"offset": 0.1, "color": "#dedede"}, {"offset": 0.155, "color": "#dedede"}, {"offset": 0.155, "color": "#4a4a4a"}, {"offset": 0.2, "color": "#4a4a4a"}, {"offset": 0.2, "color": "#dedede"}, {"offset": 0.255, "color": "#dedede"}, {"offset": 0.255, "color": "#4a4a4a"}, {"offset": 0.3, "color": "#4a4a4a"}, {"offset": 0.3, "color": "#dedede"}, {"offset": 0.355, "color": "#dedede"}, {"offset": 0.355, "color": "#4a4a4a"}, {"offset": 0.4, "color": "#4a4a4a"}, {"offset": 0.4, "color": "#dedede"}, {"offset": 0.455, "color": "#dedede"}, {"offset": 0.455, "color": "#4a4a4a"}, {"offset": 0.5, "color": "#4a4a4a"}, {"offset": 0.5, "color": "#dedede"}, {"offset": 0.555, "color": "#dedede"}, {"offset": 0.555, "color": "#4a4a4a"}, {"offset": 0.6, "color": "#4a4a4a"}, {"offset": 0.6, "color": "#dedede"}, {"offset": 0.655, "color": "#dedede"}, {"offset": 0.655, "color": "#4a4a4a"}, {"offset": 0.7, "color": "#4a4a4a"}, {"offset": 0.7, "color": "#dedede"}, {"offset": 0.755, "color": "#dedede"}, {"offset": 0.755, "color": "#4a4a4a"}, {"offset": 0.8, "color": "#4a4a4a"}, {"offset": 0.8, "color": "#dedede"}, {"offset": 0.855, "color": "#dedede"}, {"offset": 0.855, "color": "#4a4a4a"}, {"offset": 0.9, "color": "#4a4a4a"}, {"offset": 0.9, "color": "#dedede"}, {"offset": 0.955, "color": "#dedede"}, {"offset": 0.955, "color": "#4a4a4a"}, {"offset": 1, "color": "#4a4a4a"}]}}], "value": "white"}}},
          {"mark": {"type": "rule", "strokeWidth": 1.3, "color": "black"}, "encoding": {"y": {"field": "mean", "type": "quantitative"}, "y2": {"field": "hi"}}},
          {"mark": {"type": "tick", "thickness": 1.6, "size": 9, "color": "black", "xOffset": 3}, "encoding": {"y": {"field": "hi", "type": "quantitative"}}},
          {"mark": {"type": "text", "dy": -10, "fontSize": 17, "fontWeight": "bold"}, "encoding": {"y": {"field": "hi", "type": "quantitative"}, "text": {"field": "sig"}}},
          {"transform": [{"filter": "datum.cond == 'Vehicle'"}], "mark": {"type": "text", "align": "left", "baseline": "top", "fontSize": 16, "fontWeight": "bold", "dx": 11, "dy": 0}, "encoding": {"x": {"field": "cond", "type": "nominal", "sort": ["Vehicle", "PMA", "PMA+tiron"], "bandPosition": 0}, "y": {"datum": 800}, "text": {"field": "g"}}}
         ]}
      ]},
      {"spacing": 10, "hconcat": [
        {"width": 207, "height": 125, "transform": [{"filter": "datum.g == 'S359A'"}],
         "encoding": {"x": {"field": "cond", "type": "nominal", "sort": ["Vehicle", "PMA", "PMA+tiron"], "scale": {"paddingInner": 0, "paddingOuter": 0}, "axis": {"title": null, "tickBand": "extent", "tickSize": 5, "labelFontSize": 15.5, "labelPadding": 5, "labelAngle": 0}}},
         "layer": [
          {"mark": {"type": "bar", "stroke": "black", "strokeWidth": 1, "width": {"band": 0.42}}, "encoding": {"y": {"field": "mean", "type": "quantitative", "scale": {"domain": [0, 800], "nice": false}, "axis": {"title": "MLU/5x10⁴ cells", "values": [0, 200, 400, 600, 800], "labelFontSize": 14, "titleFontSize": 12, "titlePadding": 8, "labelPadding": 2, "tickSize": 5}}, "fill": {"condition": [{"test": "datum.cond == 'PMA'", "value": "black"}, {"test": "datum.cond == 'PMA+tiron'", "value": {"gradient": "linear", "x1": 0, "y1": 0.55, "x2": 1, "y2": 0, "stops": [{"offset": 0, "color": "#dedede"}, {"offset": 0.055, "color": "#dedede"}, {"offset": 0.055, "color": "#4a4a4a"}, {"offset": 0.1, "color": "#4a4a4a"}, {"offset": 0.1, "color": "#dedede"}, {"offset": 0.155, "color": "#dedede"}, {"offset": 0.155, "color": "#4a4a4a"}, {"offset": 0.2, "color": "#4a4a4a"}, {"offset": 0.2, "color": "#dedede"}, {"offset": 0.255, "color": "#dedede"}, {"offset": 0.255, "color": "#4a4a4a"}, {"offset": 0.3, "color": "#4a4a4a"}, {"offset": 0.3, "color": "#dedede"}, {"offset": 0.355, "color": "#dedede"}, {"offset": 0.355, "color": "#4a4a4a"}, {"offset": 0.4, "color": "#4a4a4a"}, {"offset": 0.4, "color": "#dedede"}, {"offset": 0.455, "color": "#dedede"}, {"offset": 0.455, "color": "#4a4a4a"}, {"offset": 0.5, "color": "#4a4a4a"}, {"offset": 0.5, "color": "#dedede"}, {"offset": 0.555, "color": "#dedede"}, {"offset": 0.555, "color": "#4a4a4a"}, {"offset": 0.6, "color": "#4a4a4a"}, {"offset": 0.6, "color": "#dedede"}, {"offset": 0.655, "color": "#dedede"}, {"offset": 0.655, "color": "#4a4a4a"}, {"offset": 0.7, "color": "#4a4a4a"}, {"offset": 0.7, "color": "#dedede"}, {"offset": 0.755, "color": "#dedede"}, {"offset": 0.755, "color": "#4a4a4a"}, {"offset": 0.8, "color": "#4a4a4a"}, {"offset": 0.8, "color": "#dedede"}, {"offset": 0.855, "color": "#dedede"}, {"offset": 0.855, "color": "#4a4a4a"}, {"offset": 0.9, "color": "#4a4a4a"}, {"offset": 0.9, "color": "#dedede"}, {"offset": 0.955, "color": "#dedede"}, {"offset": 0.955, "color": "#4a4a4a"}, {"offset": 1, "color": "#4a4a4a"}]}}], "value": "white"}}},
          {"mark": {"type": "rule", "strokeWidth": 1.3, "color": "black"}, "encoding": {"y": {"field": "mean", "type": "quantitative"}, "y2": {"field": "hi"}}},
          {"mark": {"type": "tick", "thickness": 1.6, "size": 9, "color": "black", "xOffset": 3}, "encoding": {"y": {"field": "hi", "type": "quantitative"}}},
          {"mark": {"type": "text", "dy": -10, "fontSize": 17, "fontWeight": "bold"}, "encoding": {"y": {"field": "hi", "type": "quantitative"}, "text": {"field": "sig"}}},
          {"transform": [{"filter": "datum.cond == 'Vehicle'"}], "mark": {"type": "text", "align": "left", "baseline": "top", "fontSize": 16, "fontWeight": "bold", "dx": 11, "dy": 0}, "encoding": {"x": {"field": "cond", "type": "nominal", "sort": ["Vehicle", "PMA", "PMA+tiron"], "bandPosition": 0}, "y": {"datum": 800}, "text": {"field": "g"}}}
         ]},
        {"width": 196, "height": 125, "transform": [{"filter": "datum.g == 'S370A'"}],
         "encoding": {"x": {"field": "cond", "type": "nominal", "sort": ["Vehicle", "PMA", "PMA+tiron"], "scale": {"paddingInner": 0, "paddingOuter": 0}, "axis": {"title": null, "tickBand": "extent", "tickSize": 5, "labelFontSize": 15.5, "labelPadding": 5, "labelAngle": 0}}},
         "layer": [
          {"mark": {"type": "bar", "stroke": "black", "strokeWidth": 1, "width": {"band": 0.42}}, "encoding": {"y": {"field": "mean", "type": "quantitative", "scale": {"domain": [0, 800], "nice": false}, "axis": {"title": null, "labels": false, "values": [0, 200, 400, 600, 800], "tickSize": 5}}, "fill": {"condition": [{"test": "datum.cond == 'PMA'", "value": "black"}, {"test": "datum.cond == 'PMA+tiron'", "value": {"gradient": "linear", "x1": 0, "y1": 0.55, "x2": 1, "y2": 0, "stops": [{"offset": 0, "color": "#dedede"}, {"offset": 0.055, "color": "#dedede"}, {"offset": 0.055, "color": "#4a4a4a"}, {"offset": 0.1, "color": "#4a4a4a"}, {"offset": 0.1, "color": "#dedede"}, {"offset": 0.155, "color": "#dedede"}, {"offset": 0.155, "color": "#4a4a4a"}, {"offset": 0.2, "color": "#4a4a4a"}, {"offset": 0.2, "color": "#dedede"}, {"offset": 0.255, "color": "#dedede"}, {"offset": 0.255, "color": "#4a4a4a"}, {"offset": 0.3, "color": "#4a4a4a"}, {"offset": 0.3, "color": "#dedede"}, {"offset": 0.355, "color": "#dedede"}, {"offset": 0.355, "color": "#4a4a4a"}, {"offset": 0.4, "color": "#4a4a4a"}, {"offset": 0.4, "color": "#dedede"}, {"offset": 0.455, "color": "#dedede"}, {"offset": 0.455, "color": "#4a4a4a"}, {"offset": 0.5, "color": "#4a4a4a"}, {"offset": 0.5, "color": "#dedede"}, {"offset": 0.555, "color": "#dedede"}, {"offset": 0.555, "color": "#4a4a4a"}, {"offset": 0.6, "color": "#4a4a4a"}, {"offset": 0.6, "color": "#dedede"}, {"offset": 0.655, "color": "#dedede"}, {"offset": 0.655, "color": "#4a4a4a"}, {"offset": 0.7, "color": "#4a4a4a"}, {"offset": 0.7, "color": "#dedede"}, {"offset": 0.755, "color": "#dedede"}, {"offset": 0.755, "color": "#4a4a4a"}, {"offset": 0.8, "color": "#4a4a4a"}, {"offset": 0.8, "color": "#dedede"}, {"offset": 0.855, "color": "#dedede"}, {"offset": 0.855, "color": "#4a4a4a"}, {"offset": 0.9, "color": "#4a4a4a"}, {"offset": 0.9, "color": "#dedede"}, {"offset": 0.955, "color": "#dedede"}, {"offset": 0.955, "color": "#4a4a4a"}, {"offset": 1, "color": "#4a4a4a"}]}}], "value": "white"}}},
          {"mark": {"type": "rule", "strokeWidth": 1.3, "color": "black"}, "encoding": {"y": {"field": "mean", "type": "quantitative"}, "y2": {"field": "hi"}}},
          {"mark": {"type": "tick", "thickness": 1.6, "size": 9, "color": "black", "xOffset": 3}, "encoding": {"y": {"field": "hi", "type": "quantitative"}}},
          {"mark": {"type": "text", "dy": -10, "fontSize": 17, "fontWeight": "bold"}, "encoding": {"y": {"field": "hi", "type": "quantitative"}, "text": {"field": "sig"}}},
          {"transform": [{"filter": "datum.cond == 'Vehicle'"}], "mark": {"type": "text", "align": "left", "baseline": "top", "fontSize": 16, "fontWeight": "bold", "dx": 11, "dy": 0}, "encoding": {"x": {"field": "cond", "type": "nominal", "sort": ["Vehicle", "PMA", "PMA+tiron"], "bandPosition": 0}, "y": {"datum": 800}, "text": {"field": "g"}}}
         ]},
        {"width": 203, "height": 125, "transform": [{"filter": "datum.g == 'S379A'"}],
         "encoding": {"x": {"field": "cond", "type": "nominal", "sort": ["Vehicle", "PMA", "PMA+tiron"], "scale": {"paddingInner": 0, "paddingOuter": 0}, "axis": {"title": null, "tickBand": "extent", "tickSize": 5, "labelFontSize": 15.5, "labelPadding": 5, "labelAngle": 0}}},
         "layer": [
          {"mark": {"type": "bar", "stroke": "black", "strokeWidth": 1, "width": {"band": 0.42}}, "encoding": {"y": {"field": "mean", "type": "quantitative", "scale": {"domain": [0, 800], "nice": false}, "axis": {"title": null, "labels": false, "values": [0, 200, 400, 600, 800], "tickSize": 5}}, "fill": {"condition": [{"test": "datum.cond == 'PMA'", "value": "black"}, {"test": "datum.cond == 'PMA+tiron'", "value": {"gradient": "linear", "x1": 0, "y1": 0.55, "x2": 1, "y2": 0, "stops": [{"offset": 0, "color": "#dedede"}, {"offset": 0.055, "color": "#dedede"}, {"offset": 0.055, "color": "#4a4a4a"}, {"offset": 0.1, "color": "#4a4a4a"}, {"offset": 0.1, "color": "#dedede"}, {"offset": 0.155, "color": "#dedede"}, {"offset": 0.155, "color": "#4a4a4a"}, {"offset": 0.2, "color": "#4a4a4a"}, {"offset": 0.2, "color": "#dedede"}, {"offset": 0.255, "color": "#dedede"}, {"offset": 0.255, "color": "#4a4a4a"}, {"offset": 0.3, "color": "#4a4a4a"}, {"offset": 0.3, "color": "#dedede"}, {"offset": 0.355, "color": "#dedede"}, {"offset": 0.355, "color": "#4a4a4a"}, {"offset": 0.4, "color": "#4a4a4a"}, {"offset": 0.4, "color": "#dedede"}, {"offset": 0.455, "color": "#dedede"}, {"offset": 0.455, "color": "#4a4a4a"}, {"offset": 0.5, "color": "#4a4a4a"}, {"offset": 0.5, "color": "#dedede"}, {"offset": 0.555, "color": "#dedede"}, {"offset": 0.555, "color": "#4a4a4a"}, {"offset": 0.6, "color": "#4a4a4a"}, {"offset": 0.6, "color": "#dedede"}, {"offset": 0.655, "color": "#dedede"}, {"offset": 0.655, "color": "#4a4a4a"}, {"offset": 0.7, "color": "#4a4a4a"}, {"offset": 0.7, "color": "#dedede"}, {"offset": 0.755, "color": "#dedede"}, {"offset": 0.755, "color": "#4a4a4a"}, {"offset": 0.8, "color": "#4a4a4a"}, {"offset": 0.8, "color": "#dedede"}, {"offset": 0.855, "color": "#dedede"}, {"offset": 0.855, "color": "#4a4a4a"}, {"offset": 0.9, "color": "#4a4a4a"}, {"offset": 0.9, "color": "#dedede"}, {"offset": 0.955, "color": "#dedede"}, {"offset": 0.955, "color": "#4a4a4a"}, {"offset": 1, "color": "#4a4a4a"}]}}], "value": "white"}}},
          {"mark": {"type": "rule", "strokeWidth": 1.3, "color": "black"}, "encoding": {"y": {"field": "mean", "type": "quantitative"}, "y2": {"field": "hi"}}},
          {"mark": {"type": "tick", "thickness": 1.6, "size": 9, "color": "black", "xOffset": 3}, "encoding": {"y": {"field": "hi", "type": "quantitative"}}},
          {"mark": {"type": "text", "dy": -10, "fontSize": 17, "fontWeight": "bold"}, "encoding": {"y": {"field": "hi", "type": "quantitative"}, "text": {"field": "sig"}}},
          {"transform": [{"filter": "datum.cond == 'Vehicle'"}], "mark": {"type": "text", "align": "left", "baseline": "top", "fontSize": 16, "fontWeight": "bold", "dx": 11, "dy": 0}, "encoding": {"x": {"field": "cond", "type": "nominal", "sort": ["Vehicle", "PMA", "PMA+tiron"], "bandPosition": 0}, "y": {"datum": 800}, "text": {"field": "g"}}}
         ]}
      ]}
    ]
  },
  {
    "spacing": 16,
    "hconcat": [
      {
        "title": {"text": "b) Kinetic reading of ROS production", "offset": 13},
        "spacing": 0,
        "resolve": {"scale": {"shape": "independent", "fill": "independent"}},
        "hconcat": [
          {"width": 179, "height": 157, "data": {"name": "kin"}, "transform": [{"filter": "datum.p == 'without'"}],
           "encoding": {
             "x": {"field": "m", "type": "quantitative", "scale": {"domain": [0.4, 20.3], "nice": false, "zero": false}, "axis": {"values": [1,2,3,4,5,6,7,8,9,10,11,12,13,14,15,16,17,18,19,20], "labelExpr": "datum.value % 2 == 1 ? datum.label : ''", "title": "minutes", "titleFontSize": 17, "labelFontSize": 12.5, "tickSize": 4, "labelPadding": 3, "titlePadding": 2}},
             "y": {"field": "v", "type": "quantitative", "scale": {"domain": [0, 1000], "nice": false}, "axis": {"values": [0, 200, 400, 600, 800, 1000], "format": "d", "title": "MLU/0.1 mg protein", "titleFontSize": 13, "titlePadding": 2, "labelPadding": 3, "labelFontSize": {"condition": {"test": "datum.value == 1000", "value": 8.5}, "value": 12}, "tickSize": 4}}
           },
           "layer": [
             {"mark": {"type": "line", "color": "black", "strokeWidth": 1}, "encoding": {"detail": {"field": "s"}}},
             {"mark": {"type": "errorbar", "ticks": {"size": 6}, "color": "black"}, "encoding": {"yError": {"field": "e"}, "detail": {"field": "s"}}},
             {"mark": {"type": "point", "filled": true, "stroke": "black", "strokeWidth": 1, "size": 70, "opacity": 1},
              "encoding": {
                "shape": {"field": "s", "type": "nominal", "scale": {"domain": ["Vector", "WTp47ᵖʰᵒˣ", "S379A"], "range": ["circle", "circle", "triangle-up"]}, "legend": {"title": null, "orient": "none", "legendX": 86, "legendY": 19, "labelFontSize": 16, "symbolSize": 140, "rowPadding": 2, "labelColor": "black", "labelOffset": 3, "encode": {"symbols": {"update": {"stroke": {"value": "black"}, "strokeWidth": {"value": 1.2}}}}}},
                "fill": {"field": "s", "type": "nominal", "scale": {"domain": ["Vector", "WTp47ᵖʰᵒˣ", "S379A"], "range": ["white", "black", "white"]}, "legend": {"title": null, "orient": "none", "legendX": 86, "legendY": 19, "labelFontSize": 16, "symbolSize": 140, "rowPadding": 2, "labelColor": "black", "labelOffset": 3, "encode": {"symbols": {"update": {"stroke": {"value": "black"}, "strokeWidth": {"value": 1.2}}}}}}
              }},
             {"data": {"values": [{"m": 2.2, "v": 1000, "t": "Without PMA"}]}, "mark": {"type": "text", "align": "left", "baseline": "alphabetic", "fontSize": 16}, "encoding": {"text": {"field": "t"}}}
           ]},
          {"width": 179, "height": 157, "data": {"name": "kin"}, "transform": [{"filter": "datum.p == 'with'"}],
           "encoding": {
             "x": {"field": "m", "type": "quantitative", "scale": {"domain": [0.5, 20.3], "nice": false, "zero": false}, "axis": {"values": [1,2,3,4,5,6,7,8,9,10,11,12,13,14,15,16,17,18,19,20], "labelExpr": "datum.value % 2 == 1 ? datum.label : ''", "title": "minutes", "titleFontSize": 17, "labelFontSize": 12.5, "tickSize": 4, "labelPadding": 3, "titlePadding": 2}},
             "y": {"field": "v", "type": "quantitative", "scale": {"domain": [0, 1000], "nice": false}, "axis": {"values": [0, 200, 400, 600, 800, 1000], "title": null, "labels": false, "tickSize": 4}}
           },
           "layer": [
             {"mark": {"type": "line", "color": "black", "strokeWidth": 1}, "encoding": {"detail": {"field": "s"}}},
             {"mark": {"type": "errorbar", "ticks": {"size": 6}, "color": "black"}, "encoding": {"yError": {"field": "e"}, "detail": {"field": "s"}}},
             {"mark": {"type": "point", "filled": true, "stroke": "black", "strokeWidth": 1, "size": 70, "opacity": 1},
              "encoding": {
                "shape": {"field": "s", "type": "nominal", "scale": {"domain": ["Vector", "WTp47ᵖʰᵒˣ", "S379A"], "range": ["circle", "circle", "triangle-up"]}, "legend": null},
                "fill": {"field": "s", "type": "nominal", "scale": {"domain": ["Vector", "WTp47ᵖʰᵒˣ", "S379A"], "range": ["white", "black", "white"]}, "legend": null}
              }},
             {"data": {"values": [{"x": 20.35, "x2": 21.1, "y": 708, "y2": 708}, {"x": 20.35, "x2": 21.1, "y": 352, "y2": 352}, {"x": 21.1, "x2": 21.1, "y": 352, "y2": 708}]},
              "mark": {"type": "rule", "color": "#8a8a8a", "strokeWidth": 1.2},
              "encoding": {"x": {"field": "x", "type": "quantitative"}, "x2": {"field": "x2"}, "y": {"field": "y", "type": "quantitative"}, "y2": {"field": "y2"}}},
             {"data": {"values": [{"m": 21.9, "v": 525, "t": "*"}]}, "mark": {"type": "text", "fontSize": 16, "baseline": "middle"}, "encoding": {"text": {"field": "t"}}},
             {"data": {"values": [{"m": 2.9, "v": 1000, "t": "With PMA"}]}, "mark": {"type": "text", "align": "left", "baseline": "alphabetic", "fontSize": 16}, "encoding": {"text": {"field": "t"}}}
           ]}
        ]
      },
      {
        "title": {"text": "c) Inhibitor effects", "offset": 13},
        "width": 194, "height": 124,
        "data": {"name": "inh"},
        "encoding": {"x": {"field": "k", "type": "nominal", "sort": ["WTp47", "rotenone", "oxypurinol", "DPI", "tiron", "apocynin"], "scale": {"paddingInner": 0, "paddingOuter": 0}, "axis": {"title": null, "labelAngle": -45, "labelFontSize": 15, "tickBand": "extent", "tickSize": 4, "labelPadding": 2}}},
        "layer": [
          {"mark": {"type": "bar", "color": "black", "width": {"band": 0.56}}, "encoding": {"y": {"field": "mean", "type": "quantitative", "scale": {"domain": [0, 1000], "nice": false}, "axis": {"values": [0, 200, 400, 600, 800, 1000], "format": "d", "title": "MLU/0.1 mg protein", "titleFontSize": 13, "titlePadding": 2, "labelPadding": 3, "labelFontSize": {"condition": {"test": "datum.value == 1000", "value": 8.5}, "value": 12}, "tickSize": 4}}}},
          {"mark": {"type": "rule", "strokeWidth": 1.3, "color": "black"}, "encoding": {"y": {"field": "mean", "type": "quantitative"}, "y2": {"field": "hi"}}},
          {"mark": {"type": "tick", "thickness": 1.6, "size": 9, "color": "black", "xOffset": 2}, "encoding": {"y": {"field": "hi", "type": "quantitative"}}},
          {"mark": {"type": "text", "dy": -10, "fontSize": 17}, "encoding": {"y": {"field": "hi", "type": "quantitative"}, "text": {"field": "sig"}}},
          {"data": {"values": [{"k": "WTp47", "t": "With PMA"}]}, "mark": {"type": "text", "align": "left", "baseline": "alphabetic", "fontSize": 16, "dx": 11}, "encoding": {"x": {"field": "k", "type": "nominal", "sort": ["WTp47", "rotenone", "oxypurinol", "DPI", "tiron", "apocynin"], "bandPosition": 0}, "y": {"datum": 1000}, "text": {"field": "t"}}}
        ]
      }
    ]
  }
]
}
